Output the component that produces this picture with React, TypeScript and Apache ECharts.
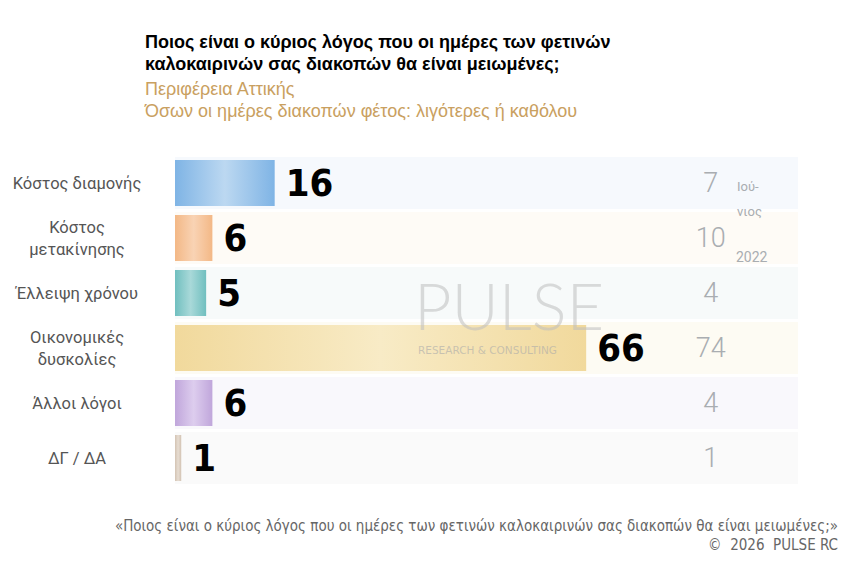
import React, { useEffect, useRef } from "react";
import * as echarts from "echarts";

const categories = [
  "Κόστος διαμονής",
  "Κόστος\nμετακίνησης",
  "Έλλειψη χρόνου",
  "Οικονομικές\nδυσκολίες",
  "Άλλοι λόγοι",
  "ΔΓ / ΔΑ",
];
const values2026 = [16, 6, 5, 66, 6, 1];
const values2022 = [7, 10, 4, 74, 4, 1];
const scaleMax = [100, 100, 100, 100, 100, 100];

const barEdge = ["#7fb4e5", "#f3b886", "#70bfbf", "#f1d99c", "#c0a6db", "#d3c3b3"];
const barMid = ["#bcd8f1", "#f9d3b4", "#a9d9d9", "#f8ebc6", "#ddcdee", "#e7ddd2"];
const bandColors = ["#f6f9fd", "#fefbf6", "#f7fafa", "#fdfbf3", "#f9f8fc", "#fafafa"];

const titleLines = [
  "Ποιος είναι ο κύριος λόγος που οι ημέρες των φετινών",
  "καλοκαιρινών σας διακοπών θα είναι μειωμένες;",
];
const subtitleLines = ["Περιφέρεια Αττικής", "Όσων οι ημέρες διακοπών φέτος: λιγότερες ή καθόλου"];
const footerLines = [
  "«Ποιος είναι ο κύριος λόγος που οι ημέρες των φετινών καλοκαιρινών σας διακοπών θα είναι μειωμένες;»",
  "©  2026  PULSE RC",
];

export default function App() {
  const ref = useRef<HTMLDivElement>(null);
  useEffect(() => {
    document.body.style.margin = "0";
    if (!ref.current) return;
    const chart = echarts.init(ref.current, undefined, { renderer: "svg" });
    const grad = (i: number) =>
      new echarts.graphic.LinearGradient(0, 0, 1, 0, [
        { offset: 0, color: barEdge[i] },
        { offset: 0.5, color: barMid[i] },
        { offset: 1, color: barEdge[i] },
      ]);
    chart.setOption({
      animation: false,
      backgroundColor: "#ffffff",
      grid: { left: 175, width: 623, top: 155.5, height: 330 },
      xAxis: [{ type: "value", min: 0, max: 100, show: false }],
      yAxis: [
        {
          type: "category",
          data: categories,
          inverse: true,
          axisLine: { show: false },
          axisTick: { show: false },
          axisLabel: {
            align: "center",
            margin: 98,
            fontFamily: "Roboto",
            fontSize: 16.5,
            lineHeight: 22,
            color: "#555555",
          },
        },
        { type: "category", data: categories, inverse: true, show: false },
      ],
      series: [
        {
          type: "bar",
          yAxisIndex: 1,
          barWidth: 52,
          silent: true,
          z: 1,
          data: scaleMax.map((v, i) => ({ value: v, itemStyle: { color: bandColors[i] } })),
          label: {
            show: true,
            position: ["86%", "50%"],
            align: "center",
            verticalAlign: "middle",
            formatter: (p: any) => String(values2022[p.dataIndex]),
            fontFamily: "Roboto",
            fontWeight: 300,
            fontSize: 27,
            color: "#a9adb1",
          },
        },
        {
          type: "bar",
          yAxisIndex: 0,
          barWidth: 46,
          z: 2,
          data: values2026.map((v, i) => ({ value: v, itemStyle: { color: grad(i) } })),
          label: {
            show: true,
            position: "right",
            distance: 11,
            fontFamily: "DejaVu Sans Condensed",
            fontWeight: "bold",
            fontSize: 38,
            color: "#000000",
          },
        },
      ],
      graphic: [
        {
          type: "text",
          left: 145,
          top: 31,
          style: {
            text: titleLines.join("\n"),
            font: "bold 18px 'Liberation Sans'",
            lineHeight: 22,
            fill: "#000000",
          },
        },
        {
          type: "text",
          left: 145,
          top: 78,
          style: {
            text: subtitleLines.join("\n"),
            font: "18px 'Liberation Sans'",
            lineHeight: 22,
            fill: "#c9a060",
          },
        },
        {
          type: "text",
          left: 737,
          top: 174,
          z: 20,
          style: { text: "Ιού-\nνιος", font: "13px Roboto", lineHeight: 25, fill: "#a9adb1" },
        },
        {
          type: "text",
          left: 736,
          top: 250,
          z: 20,
          style: { text: "2022", font: "14px Roboto", fill: "#a9adb1" },
        },
        {
          type: "text",
          left: 414,
          top: 272,
          z: 20,
          style: {
            text: "PULSE",
            font: "300 65px Lato",
            fill: "rgba(190,190,190,0.55)",
          },
        },
        {
          type: "text",
          left: 418,
          top: 344,
          z: 20,
          style: {
            text: "RESEARCH & CONSULTING",
            font: "10.5px 'DejaVu Sans'",
            fill: "rgba(170,170,170,0.6)",
          },
        },
        {
          type: "text",
          right: 12,
          top: 518,
          style: {
            text: footerLines[0],
            font: "15px 'DejaVu Sans Condensed'",
            fill: "#666666",
            align: "right",
          },
        },
        {
          type: "text",
          right: 12,
          top: 537,
          style: {
            text: footerLines[1],
            font: "15px 'DejaVu Sans Condensed'",
            fill: "#666666",
            align: "right",
          },
        },
      ],
    });
    return () => chart.dispose();
  }, []);
  return <div ref={ref} style={{ width: 850, height: 575 }} />;
}
